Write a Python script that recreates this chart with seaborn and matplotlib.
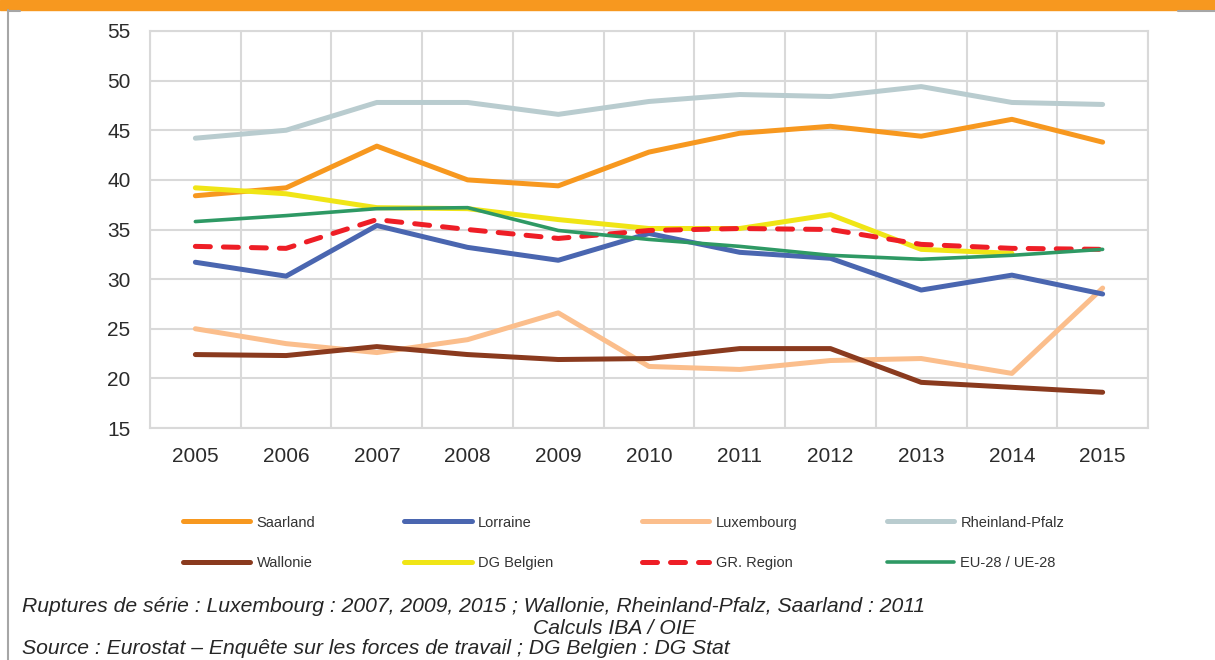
import pandas as pd
import matplotlib.pyplot as plt
import seaborn as sns
from matplotlib.lines import Line2D
from matplotlib.patches import Rectangle

# data
years = ['2005', '2006', '2007', '2008', '2009', '2010', '2011', '2012', '2013', '2014', '2015']
saarland = [38.4, 39.2, 43.4, 40.0, 39.4, 42.8, 44.7, 45.4, 44.4, 46.1, 43.8]
lorraine = [31.7, 30.3, 35.4, 33.2, 31.9, 34.6, 32.7, 32.1, 28.9, 30.4, 28.5]
luxembourg = [25.0, 23.5, 22.6, 23.9, 26.6, 21.2, 20.9, 21.8, 22.0, 20.5, 29.1]
rheinland_pfalz = [44.2, 45.0, 47.8, 47.8, 46.6, 47.9, 48.6, 48.4, 49.4, 47.8, 47.6]
wallonie = [22.4, 22.3, 23.2, 22.4, 21.9, 22.0, 23.0, 23.0, 19.6, 19.1, 18.6]
dg_belgien = [39.2, 38.6, 37.2, 37.1, 36.0, 35.1, 35.1, 36.5, 33.0, 32.6, None]
gr_region = [33.3, 33.1, 36.0, 35.0, 34.1, 34.9, 35.1, 35.0, 33.5, 33.1, 33.0]
eu28 = [35.8, 36.4, 37.1, 37.2, 34.9, 34.0, 33.3, 32.4, 32.0, 32.4, 33.0]

series = {
    'Saarland': saarland,
    'Lorraine': lorraine,
    'Luxembourg': luxembourg,
    'Rheinland-Pfalz': rheinland_pfalz,
    'Wallonie': wallonie,
    'DG Belgien': dg_belgien,
    'GR. Region': gr_region,
    'EU-28 / UE-28': eu28,
}
colors = {
    'Saarland': '#F7981F',
    'Lorraine': '#4A66B0',
    'Luxembourg': '#FBBE8C',
    'Rheinland-Pfalz': '#B9CCCF',
    'Wallonie': '#8A3A1E',
    'DG Belgien': '#F0E516',
    'GR. Region': '#EE1E26',
    'EU-28 / UE-28': '#2E9964',
}

rows = []
for name, vals in series.items():
    for i, v in enumerate(vals):
        if v is not None:
            rows.append({'serie': name, 'pos': i, 'val': v})
df = pd.DataFrame(rows)

sns.set_theme(style='white')
plt.rcParams['font.family'] = ['Liberation Sans', 'DejaVu Sans']

fig = plt.figure(figsize=(12.15, 6.6), dpi=100)
ax = fig.add_axes([150 / 1215, 1 - 428 / 660, 998 / 1215, 397 / 660])

red_dash = (0, (3, 2.6))

# draw order so overlaps look like the reference
draw_order = ['Rheinland-Pfalz', 'Saarland', 'Luxembourg', 'Wallonie', 'Lorraine',
              'DG Belgien', 'GR. Region', 'EU-28 / UE-28']
for name in draw_order:
    sub = df[df['serie'] == name]
    lw = 2.6 if name == 'EU-28 / UE-28' else 3.6
    sns.lineplot(data=sub, x='pos', y='val', ax=ax, color=colors[name], linewidth=lw,
                 solid_capstyle='round', dash_capstyle='round', legend=False, zorder=3)
    if name == 'GR. Region':
        ax.lines[-1].set_linestyle(red_dash)

ax.set_xlim(-0.5, len(years) - 0.5)
ax.set_ylim(15, 55)
ax.set_yticks(range(15, 56, 5))
ax.set_xticks(range(len(years)))
ax.set_xticklabels(years)
ax.set_xticks([i - 0.5 for i in range(len(years) + 1)], minor=True)
ax.grid(False)
ax.grid(True, axis='y', which='major', color='#D9D9D9', linewidth=1.5, zorder=0)
ax.grid(True, axis='x', which='minor', color='#D9D9D9', linewidth=1.5, zorder=0)
ax.set_axisbelow(True)
for s in ax.spines.values():
    s.set_color('#D9D9D9')
    s.set_linewidth(1.5)
ax.tick_params(axis='both', which='both', length=0, labelsize=15, labelcolor='#2b2b2b')
ax.tick_params(axis='x', pad=14)
ax.tick_params(axis='y', pad=14)
ax.set_xlabel('')
ax.set_ylabel('')

# legend, column-major order so rows read like the reference
leg_order = ['Saarland', 'Wallonie', 'Lorraine', 'DG Belgien',
             'Luxembourg', 'GR. Region', 'Rheinland-Pfalz', 'EU-28 / UE-28']
handles = []
for name in leg_order:
    lw = 2.6 if name == 'EU-28 / UE-28' else 3.6
    ls = red_dash if name == 'GR. Region' else '-'
    handles.append(Line2D([], [], color=colors[name], linewidth=lw, linestyle=ls,
                          solid_capstyle='round', dash_capstyle='round'))
leg = fig.legend(handles, leg_order, ncol=4, loc='center left',
                 bbox_to_anchor=(170 / 1215, 1 - 543 / 660), frameon=False,
                 fontsize=10.5, handlelength=4.6, handletextpad=0.45,
                 columnspacing=6.1, labelspacing=1.85)
for t in leg.get_texts():
    t.set_color('#333333')

# orange banner and frame
fig.patches.append(Rectangle((0, 1 - 10 / 660), 1, 10 / 660, transform=fig.transFigure,
                             color='#F7981F', zorder=0))
fig.add_artist(Line2D([8 / 1215, 8 / 1215], [0, 1 - 10 / 660], transform=fig.transFigure,
                      color='#A6A6A6', linewidth=1.5))
fig.add_artist(Line2D([8 / 1215, 20 / 1215], [1 - 11 / 660, 1 - 11 / 660], transform=fig.transFigure,
                      color='#A6A6A6', linewidth=1.5))
fig.add_artist(Line2D([1178 / 1215, 1], [1 - 11 / 660, 1 - 11 / 660], transform=fig.transFigure,
                      color='#A6A6A6', linewidth=1.5))

# footnotes
foot = dict(fontsize=15.2, style='italic', color='#262626', va='center', ha='left')
fig.text(22 / 1215, 1 - 606 / 660,
         'Ruptures de série : Luxembourg : 2007, 2009, 2015 ; Wallonie, Rheinland-Pfalz, Saarland : 2011',
         **foot)
fig.text(533 / 1215, 1 - 629 / 660, 'Calculs IBA / OIE', **foot)
fig.text(22 / 1215, 1 - 648 / 660,
         'Source : Eurostat – Enquête sur les forces de travail ; DG Belgien : DG Stat', **foot)

plt.savefig('out.png', dpi=100)
